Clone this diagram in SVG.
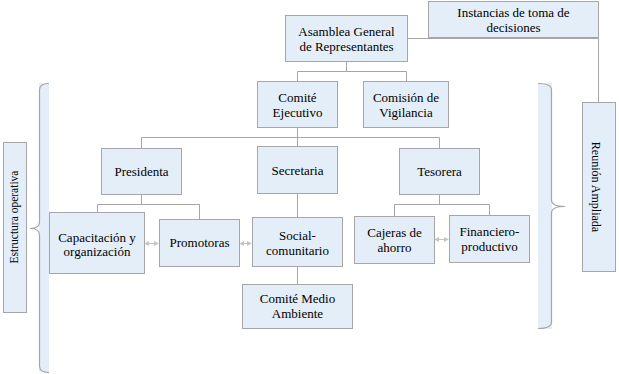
<svg xmlns="http://www.w3.org/2000/svg" width="619" height="374" viewBox="0 0 619 374">
<defs>
<style>
.box{fill:#e4eef8;stroke:#a6a6a6;stroke-width:1}
.t{font-family:"Liberation Serif","Times New Roman",serif;font-size:13px;fill:#000;text-anchor:middle}
.c{fill:none;stroke:#a6a6a6;stroke-width:1}
.a{fill:none;stroke:#c4c4c4;stroke-width:1;marker-start:url(#ah);marker-end:url(#ah)}
.brf{fill:#e4eef8;stroke:none}
.brs{fill:none;stroke:#a6a6a6;stroke-width:1.2}
</style>
<marker id="ah" viewBox="0 0 6 6" refX="5" refY="3" markerWidth="5" markerHeight="5" orient="auto-start-reverse" markerUnits="userSpaceOnUse">
<path d="M0 0 L6 3 L0 6 Z" fill="#c4c4c4"/>
</marker>
</defs>
<rect width="619" height="374" fill="#ffffff"/>
<g id="connectors">
<path class="c" d="M408 38.5 H598.5 V102"/>
<path class="c" d="M346.5 62 V71.5"/>
<path class="c" d="M297.5 81 V71.5 H406.5 V81"/>
<path class="c" d="M297.5 128 V146"/>
<path class="c" d="M141.5 148 V137.5 H439.5 V148"/>
<path class="c" d="M141.5 195 V204.5"/>
<path class="c" d="M97.5 212 V204.5 H199.5 V219"/>
<path class="c" d="M297.5 194 V217"/>
<path class="c" d="M297.5 267 V284"/>
<path class="c" d="M439.5 194 V204.5"/>
<path class="c" d="M394.5 216 V204.5 H489.5 V215"/>
<path class="a" d="M145 243.5 H158"/>
<path class="a" d="M240 243.5 H251"/>
<path class="a" d="M435 239.5 H448"/>
</g>
<g id="bracket-left">
<rect class="brf" x="39" y="83" width="10" height="289"/>
<path class="brs" d="M49 83.5 Q39.5 83.5 39.5 90 V222 Q39.5 228.5 30 228.5 Q39.5 228.5 39.5 235 V366 Q39.5 372.5 49 372.5"/>
</g>
<g id="bracket-right">
<rect class="brf" x="538" y="83" width="14" height="246"/>
<path class="brs" d="M538 83.5 Q551.5 83.5 551.5 90 V200 Q551.5 206.5 565 206.5 Q551.5 206.5 551.5 213 V322 Q551.5 328.5 538 328.5"/>
</g>
<g id="asamblea">
<rect class="box" x="285.5" y="15.5" width="122" height="46"/>
<text class="t" x="346.5" y="36">Asamblea General</text>
<text class="t" x="346.5" y="51">de Representantes</text>
</g>
<g id="instancias">
<rect class="box" x="428.5" y="1.5" width="170" height="36"/>
<text class="t" x="513.5" y="17">Instancias de toma de</text>
<text class="t" x="513.5" y="32">decisiones</text>
</g>
<g id="reunion">
<rect class="box" x="582.5" y="102.5" width="33" height="169"/>
<text class="t" font-size="12" transform="translate(592,187) rotate(90)" style="font-size:12px">Reunión Ampliada</text>
</g>
<g id="estructura">
<rect class="box" x="3.5" y="142.5" width="23" height="170"/>
<text class="t" transform="translate(18,217) rotate(-90)" style="font-size:11.5px">Estructura operativa</text>
</g>
<g id="comite-ejecutivo">
<rect class="box" x="257.5" y="81.5" width="80" height="46"/>
<text class="t" x="297.5" y="102">Comité</text>
<text class="t" x="297.5" y="117">Ejecutivo</text>
</g>
<g id="comision">
<rect class="box" x="363.5" y="81.5" width="85" height="46"/>
<text class="t" x="406" y="102">Comisión de</text>
<text class="t" x="406" y="117">Vigilancia</text>
</g>
<g id="presidenta">
<rect class="box" x="101.5" y="148.5" width="80" height="46"/>
<text class="t" x="141.5" y="176">Presidenta</text>
</g>
<g id="secretaria">
<rect class="box" x="257.5" y="146.5" width="80" height="47"/>
<text class="t" x="297.5" y="175">Secretaria</text>
</g>
<g id="tesorera">
<rect class="box" x="399.5" y="148.5" width="80" height="46"/>
<text class="t" x="439.5" y="176">Tesorera</text>
</g>
<g id="capacitacion">
<rect class="box" x="49.5" y="212.5" width="95" height="61"/>
<text class="t" x="97" y="242">Capacitación y</text>
<text class="t" x="97" y="256">organización</text>
</g>
<g id="promotoras">
<rect class="box" x="159.5" y="219.5" width="80" height="47"/>
<text class="t" x="199.5" y="247">Promotoras</text>
</g>
<g id="social">
<rect class="box" x="252.5" y="217.5" width="90" height="49"/>
<text class="t" x="297.5" y="240">Social-</text>
<text class="t" x="297.5" y="255">comunitario</text>
</g>
<g id="comite-medio">
<rect class="box" x="242.5" y="284.5" width="110" height="44"/>
<text class="t" x="297.5" y="303">Comité Medio</text>
<text class="t" x="297.5" y="318">Ambiente</text>
</g>
<g id="cajeras">
<rect class="box" x="354.5" y="216.5" width="80" height="47"/>
<text class="t" x="394.5" y="237">Cajeras de</text>
<text class="t" x="394.5" y="252">ahorro</text>
</g>
<g id="financiero">
<rect class="box" x="449.5" y="215.5" width="80" height="47"/>
<text class="t" x="489.5" y="236">Financiero-</text>
<text class="t" x="489.5" y="251">productivo</text>
</g>
</svg>
